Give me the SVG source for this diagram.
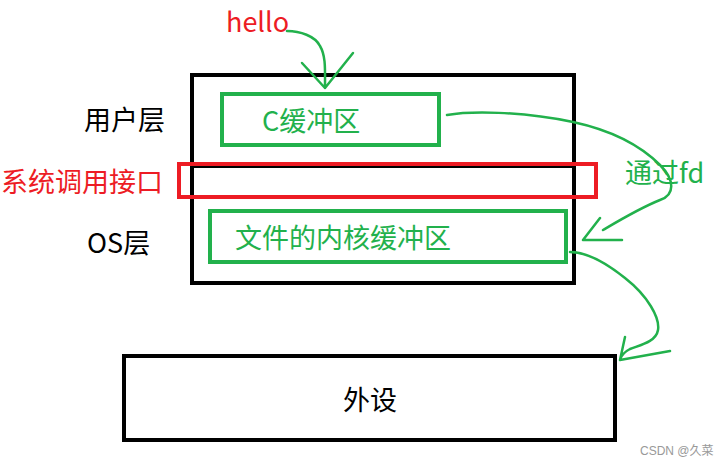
<svg xmlns="http://www.w3.org/2000/svg" width="719" height="467" viewBox="0 0 719 467">
<style>
.t{font-family:"Microsoft YaHei","Noto Sans CJK SC","Liberation Sans",sans-serif;font-size:27px;dominant-baseline:central}
.k{fill:#000}.r{fill:#ed1c24}.g{fill:#22b14c}
.box{fill:none;stroke-width:4}
.c{fill:none;stroke:#22b14c;stroke-width:2.5;stroke-linecap:round;stroke-linejoin:round}
</style>
<rect width="719" height="467" fill="#fff"/>
<g id="outer"><rect class="box" x="192" y="75" width="382" height="208" stroke="#000"/>
<line x1="194" y1="167" x2="574" y2="167" stroke="#000" stroke-width="2"/></g>
<g id="syscall"><rect class="box" x="179" y="164" width="417" height="33" stroke="#ed1c24"/>
<text class="t r" x="1" y="180">系统调用接口</text></g>
<g id="user"><text class="t k" x="84" y="118">用户层</text></g>
<g id="os"><text class="t k" x="87" y="241">OS层</text></g>
<g id="cbuf"><rect class="box" x="222" y="94" width="217" height="51" stroke="#22b14c"/>
<text class="t g" x="262" y="119">C缓冲区</text></g>
<g id="kbuf"><rect class="box" x="210" y="211" width="356" height="51" stroke="#22b14c"/>
<text class="t g" x="235" y="236">文件的内核缓冲区</text></g>
<g id="dev"><rect class="box" x="124" y="356" width="491" height="84" stroke="#000"/>
<text class="t k" x="343" y="398">外设</text></g>
<g id="hello"><text class="t r" x="226" y="20">hello</text></g>
<g id="fd"><text class="t g" x="625" y="171">通过fd</text></g>
<g id="connectors">
<path class="c" d="M287,31 C300,31 315,36 320,46 C326,56 325,70 325,88 M302,63 L325,88 L353,53"/>
<path class="c" d="M447,115 C470,111 520,111 573,122 C610,130 640,145 660,165 C675,180 675,195 660,200 C640,208 620,220 603,230 M600,218 L583,240 L622,240"/>
<path class="c" d="M570,252 C585,252 605,262 625,278 C648,296 660,318 658,330 C656,342 640,345 630,349 C624,352 621,356 620,360 M625,337 L620,360 L670,351"/>
</g>
<text x="640" y="455" font-family="Liberation Sans,Noto Sans CJK SC,sans-serif" font-size="12" fill="#999">CSDN @久菜</text>
</svg>
